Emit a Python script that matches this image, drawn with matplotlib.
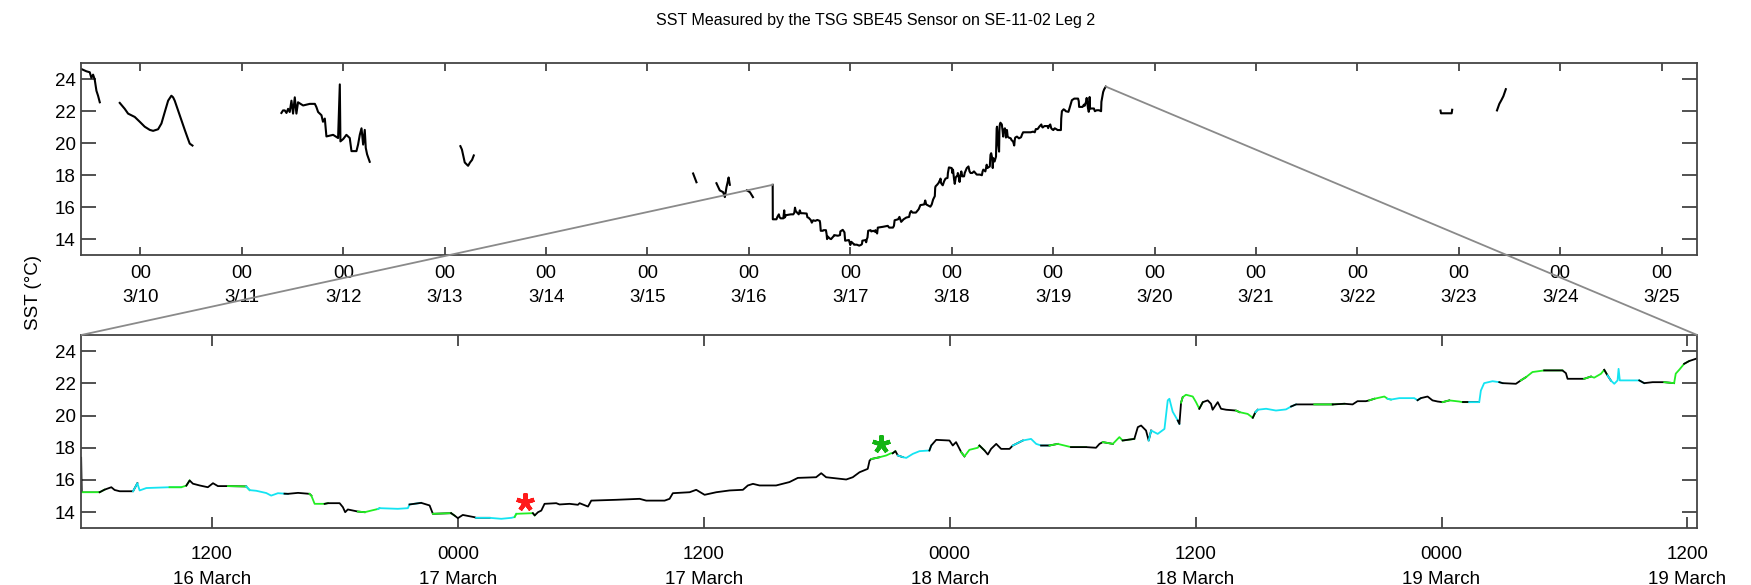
import numpy as np
import pandas as pd
import matplotlib
matplotlib.use("Agg")
import matplotlib.pyplot as plt
import matplotlib.dates as mdates
from matplotlib.patches import ConnectionPatch
from matplotlib.ticker import FuncFormatter, FixedLocator

plt.rcParams['font.family'] = ['Liberation Sans', 'DejaVu Sans']

# ---- zoomed record: hours after 16 March 2011 00:00 and SST
zoom_hours = [5.63, 5.66, 6.52, 6.76, 7.09, 7.25, 7.50, 8.15, 8.36, 8.47, 8.80, 9.93, 10.50, 10.75, 10.91,
              11.07, 11.40, 11.80, 12.05, 12.29, 12.78, 13.67, 13.84, 14.16, 14.65, 14.89, 15.22, 15.54,
              15.71, 16.20, 16.76, 16.85, 17.01, 17.50, 17.66, 18.23, 18.39, 18.50, 18.63, 19.12, 19.45,
              19.77, 20.10, 20.18, 21.07, 21.56, 21.64, 22.21, 22.62, 22.78, 23.67, 23.84, 24.00, 24.24,
              24.81, 24.89, 25.55, 26.12, 26.61, 26.77, 26.85, 27.66, 27.75, 27.91, 28.07, 28.23, 28.80,
              28.96, 29.45, 29.86, 29.94, 30.35, 30.51, 31.73, 32.87, 33.19, 34.09, 34.33, 34.49, 35.31,
              35.63, 36.04, 36.61, 37.26, 37.91, 38.15, 38.40, 38.72, 39.53, 40.18, 40.59, 41.48, 41.73,
              41.97, 42.95, 43.27, 43.60, 44.00, 44.09, 44.17, 44.57, 44.90, 45.14, 45.22, 45.35, 45.47,
              45.71, 45.88, 46.20, 46.53, 47.01, 47.10, 47.34, 47.99, 48.15, 48.31, 48.48, 48.56, 48.72,
              48.96, 49.37, 49.45, 49.70, 49.86, 50.02, 50.27, 50.51, 50.92, 51.08, 51.57, 51.97, 52.22,
              52.46, 52.87, 53.27, 53.92, 54.66, 55.14, 55.31, 55.47, 55.96, 56.28, 56.44, 57.01, 57.18,
              57.34, 57.58, 57.71, 57.83, 58.15, 58.48, 58.64, 58.72, 58.88, 59.13, 59.21, 59.29, 59.37,
              59.53, 59.86, 60.02, 60.18, 60.35, 60.59, 60.75, 60.83, 61.08, 61.24, 61.49, 61.97, 62.14,
              62.54, 62.79, 62.92, 63.03, 63.44, 63.92, 64.41, 64.66, 64.90, 65.79, 66.69, 67.26, 67.66,
              67.90, 68.31, 68.47, 68.72, 69.21, 69.37, 69.53, 69.94, 70.67, 70.83, 70.99, 71.32, 71.56,
              71.81, 72.05, 72.38, 72.86, 73.03, 73.35, 73.84, 73.92, 74.08, 74.49, 74.82, 74.98, 75.63,
              75.87, 76.12, 76.44, 77.01, 77.90, 78.07, 78.15, 78.96, 79.29, 79.45, 79.78, 79.94, 80.10,
              80.26, 80.43, 80.59, 80.64, 80.70, 81.65, 81.89, 82.30, 82.87, 83.35, 83.43, 83.60, 83.84,
              84.08, 84.41, 84.47]
zoom_sst = [17.40, 15.24, 15.24, 15.40, 15.55, 15.38, 15.30, 15.30, 15.80, 15.35, 15.50, 15.55, 15.55, 15.65, 15.97,
            15.77, 15.66, 15.55, 15.80, 15.62, 15.62, 15.60, 15.37, 15.33, 15.19, 15.03, 15.18, 15.15,
            15.14, 15.20, 15.14, 15.03, 14.52, 14.52, 14.56, 14.56, 14.31, 14.00, 14.17, 14.04, 14.00,
            14.10, 14.20, 14.25, 14.21, 14.25, 14.48, 14.58, 14.42, 13.90, 13.94, 13.79, 13.63, 13.83,
            13.69, 13.65, 13.65, 13.59, 13.65, 13.70, 13.90, 13.94, 13.80, 14.00, 14.10, 14.52, 14.56,
            14.48, 14.52, 14.46, 14.56, 14.35, 14.72, 14.77, 14.83, 14.72, 14.72, 14.83, 15.18, 15.24,
            15.39, 15.08, 15.24, 15.35, 15.39, 15.66, 15.76, 15.66, 15.66, 15.87, 16.13, 16.17, 16.42,
            16.17, 16.03, 16.17, 16.48, 16.69, 17.20, 17.30, 17.41, 17.52, 17.66, 17.66, 17.79, 17.52,
            17.42, 17.37, 17.62, 17.79, 17.83, 18.14, 18.49, 18.45, 18.14, 18.35, 17.93, 17.73, 17.46,
            17.87, 18.00, 18.14, 17.83, 17.58, 17.93, 18.24, 17.93, 17.93, 18.14, 18.45, 18.55, 18.24,
            18.14, 18.14, 18.24, 18.04, 18.04, 18.00, 18.24, 18.35, 18.24, 18.66, 18.45, 18.55, 19.28,
            19.38, 19.07, 18.45, 19.07, 18.86, 19.17, 20.94, 21.04, 20.24, 19.69, 19.48, 20.80, 21.14,
            21.29, 21.18, 20.83, 20.42, 20.83, 20.94, 20.73, 20.36, 20.83, 20.42, 20.36, 20.31, 20.21,
            20.10, 19.86, 20.21, 20.36, 20.42, 20.31, 20.38, 20.56, 20.69, 20.69, 20.69, 20.73, 20.69,
            20.89, 20.89, 20.94, 21.04, 21.18, 21.04, 20.99, 21.08, 21.08, 20.95, 21.08, 21.18, 20.94,
            20.87, 20.83, 20.94, 20.87, 20.83, 20.83, 20.83, 21.55, 22.01, 22.13, 22.07, 22.01, 21.97,
            22.18, 22.38, 22.70, 22.80, 22.80, 22.63, 22.28, 22.28, 22.42, 22.35, 22.59, 22.84, 22.49,
            22.18, 21.97, 22.18, 22.90, 22.18, 22.18, 22.01, 22.07, 22.07, 22.01, 22.60, 22.84, 23.21,
            23.38, 23.52, 23.55]

# colour of the trace changes at these hours (k black, g green, c cyan)
change_hours = [5.63, 5.66, 6.52, 8.15, 9.93, 10.75, 12.78, 13.67, 15.54, 16.76, 17.50, 19.12, 20.10,
                21.64, 22.78, 23.67, 24.89, 26.77, 27.66, 44.17, 45.22, 45.47, 47.01, 48.56, 49.45,
                51.08, 52.46, 52.87, 53.92, 55.47, 56.44, 57.71, 59.13, 59.29, 60.18, 61.97, 62.79,
                62.92, 64.66, 65.79, 66.69, 68.47, 69.37, 70.83, 72.05, 73.03, 73.35, 74.82, 75.87,
                77.01, 78.96, 79.94, 80.10, 81.65, 82.87, 83.84]
change_codes = "kgkcgkgckgkgckgkcgkgkckgkckgkgkckgkgkckgkgckgkckgkgkckgk"

# ---- other pieces of the leg, day of March 2011 (fractional)
seg1_day = [9.418, 9.467, 9.50, 9.516, 9.533, 9.549, 9.566, 9.582, 9.599]
seg1_sst = [24.65, 24.51, 24.45, 24.10, 24.30, 24.00, 23.29, 22.98, 22.57]
seg2_day = [9.796, 9.845, 9.878, 9.944, 9.993, 10.042, 10.092, 10.125, 10.174, 10.207, 10.24, 10.273,
            10.305, 10.322, 10.338, 10.371, 10.404, 10.437, 10.46, 10.486, 10.513]
seg2_sst = [22.53, 22.16, 21.86, 21.65, 21.35, 21.04, 20.84, 20.78, 20.88, 21.24, 21.96, 22.67,
            22.98, 22.88, 22.67, 22.06, 21.45, 20.84, 20.43, 19.98, 19.86]
seg3_day = [11.390, 11.406, 11.423, 11.440, 11.456, 11.472, 11.489, 11.505, 11.522, 11.538, 11.554,
            11.604, 11.67, 11.72, 11.735, 11.752, 11.785, 11.80, 11.818, 11.834, 11.90, 11.949,
            11.966, 11.972, 12.0, 12.031, 12.064, 12.081, 12.13, 12.146, 12.163, 12.18, 12.196,
            12.212, 12.222, 12.235, 12.261]
seg3_sst = [21.90, 22.06, 22.06, 21.90, 22.16, 21.96, 22.67, 21.86, 22.88, 21.86, 22.57,
            22.37, 22.47, 22.47, 22.27, 21.96, 21.76, 21.35, 21.55, 20.43, 20.53, 20.33,
            23.69, 20.12, 20.27, 20.53, 20.33, 19.51, 19.51, 19.92, 20.53, 20.94, 19.92,
            20.84, 19.71, 19.31, 18.84]
seg4_day = [13.155, 13.17, 13.198, 13.231, 13.25, 13.27, 13.287]
seg4_sst = [19.82, 19.61, 18.80, 18.59, 18.80, 18.96, 19.24]
seg5_day = [15.45, 15.483]
seg5_sst = [18.11, 17.56]
seg6_day = [15.68, 15.713, 15.746, 15.763, 15.779, 15.79, 15.80, 15.812]
seg6_sst = [17.50, 17.05, 16.94, 16.63, 17.25, 17.55, 17.86, 17.40]
seg7_day = [15.98, 16.01, 16.04]
seg7_sst = [17.05, 16.94, 16.63]
seg8_day = [16.147, 16.152]
seg8_sst = [16.67, 16.67]
seg9_day = [22.82, 22.825, 22.93, 22.935]
seg9_sst = [22.05, 21.88, 21.88, 22.10]
seg10_day = [23.377, 23.40, 23.42, 23.44, 23.464]
seg10_sst = [22.06, 22.47, 22.70, 22.95, 23.39]

star_hours = [27.26, 44.65]
star_sst = [14.62, 18.24]
star_colors = ['#ff1a1a', '#14b414']

colors = {'k': 'black', 'g': '#22ee22', 'c': '#14e4f2'}
day0 = pd.Timestamp('2011-03-16')
march0 = pd.Timestamp('2011-03-01')


def from_hours(h):
    return day0 + pd.to_timedelta(np.asarray(h), unit='h')


def from_days(d):
    return march0 + pd.to_timedelta(np.asarray(d) - 1, unit='D')


fig = plt.figure(figsize=(17.51, 5.85), dpi=100)
ax1 = fig.add_axes([0.0465, 0.564, 0.9227, 0.3275])
ax2 = fig.add_axes([0.0465, 0.0969, 0.9227, 0.3305])

# top: whole leg
top_segs = [(seg1_day, seg1_sst), (seg2_day, seg2_sst), (seg3_day, seg3_sst), (seg4_day, seg4_sst),
            (seg5_day, seg5_sst), (seg6_day, seg6_sst), (seg7_day, seg7_sst), (seg8_day, seg8_sst),
            (seg9_day, seg9_sst), (seg10_day, seg10_sst)]
for d, v in top_segs:
    ax1.plot(from_days(d), v, color='black', lw=1.5)
zt = from_hours(zoom_hours)
ax1.plot(zt, zoom_sst, color='black', lw=1.5)

# bottom: zoom, coloured pieces
hrs = np.array(zoom_hours)
sst = np.array(zoom_sst)
bounds = list(change_hours) + [hrs[-1] + 1]
for k, code in enumerate(change_codes):
    idx = np.where((hrs >= bounds[k] - 1e-9) & (hrs <= bounds[k + 1] + 1e-9))[0]
    if len(idx) == 0:
        continue
    # include the next point so the pieces join up
    last = min(idx[-1] + 1, len(hrs) - 1)
    idx = np.arange(idx[0], last + 1)
    lw = 0.9 if k == 0 else 1.3
    ax2.plot(from_hours(hrs[idx]), sst[idx], color=colors[code], lw=lw)
for h, v, c in zip(star_hours, star_sst, star_colors):
    ax2.plot(from_hours([h]), [v], marker=(5, 2, 0), ms=13, mew=3, color=c, ls='none')

ax1.set_xlim(from_days([9.418, 25.35]))
ax2.set_xlim(zt[0], zt[-1])
for ax in (ax1, ax2):
    ax.set_ylim(13, 25)
    ax.yaxis.set_major_locator(FixedLocator([14, 16, 18, 20, 22, 24]))
    ax.tick_params(axis='y', direction='in', length=11, width=1.2, right=True, labelsize=13.5,
                   pad=4, color='#333333')
    ax.tick_params(axis='x', direction='in', length=6, width=1.2, top=True, labelsize=13.5,
                   pad=7, color='#333333')
    for s in ax.spines.values():
        s.set_color('#444444')
        s.set_linewidth(1.3)

ax1.xaxis.set_major_locator(mdates.DayLocator())
ax1.xaxis.set_major_formatter(FuncFormatter(
    lambda x, p: "00\n%d/%d" % (mdates.num2date(x).month, mdates.num2date(x).day)))
ax2.xaxis.set_major_locator(mdates.HourLocator(byhour=[0, 12]))
ax2.xaxis.set_major_formatter(FuncFormatter(
    lambda x, p: "%s\n%d March" % (mdates.num2date(x).strftime('%H%M'), mdates.num2date(x).day)))
ax2.tick_params(axis='x', length=8, pad=13)
fig.canvas.draw()
for ax, ls in ((ax1, 1.55), (ax2, 1.6)):
    for lab in ax.get_xticklabels():
        lab.set_linespacing(ls)

# zoom connectors
for xa, ya, xb in [(zt[0], zoom_sst[0], 0), (zt[-1], zoom_sst[-1], 1)]:
    con = ConnectionPatch(xyA=(mdates.date2num(xa), ya), coordsA=ax1.transData,
                          xyB=(xb, 1), coordsB=ax2.transAxes, color='#8a8a8a', lw=1.3)
    fig.add_artist(con)

fig.text(0.5, 0.965, "SST Measured by the TSG SBE45 Sensor on SE-11-02 Leg 2",
         ha='center', va='center', fontsize=11.5)
fig.text(0.019, 0.5, "SST (°C)", rotation=90, ha='center', va='center', fontsize=13.5)

fig.savefig("out.png", dpi=100)
